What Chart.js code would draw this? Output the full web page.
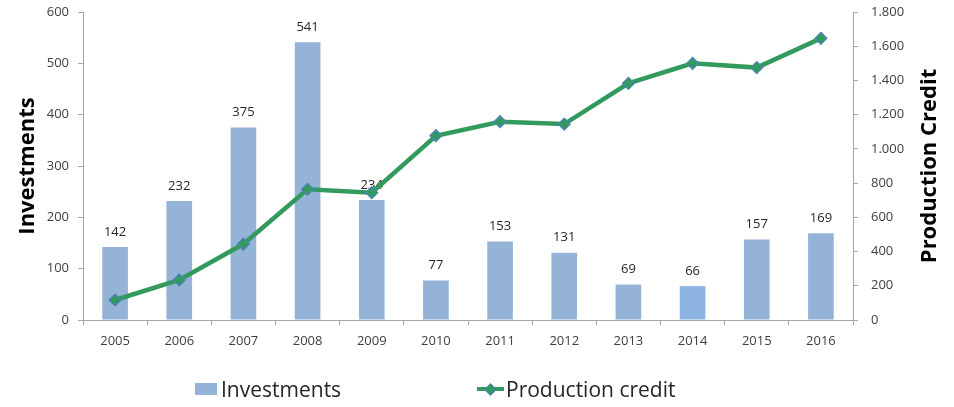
<!DOCTYPE html>
<html>
<head>
<meta charset="utf-8">
<script src="https://cdn.jsdelivr.net/npm/chart.js@4.4.1/dist/chart.umd.min.js"></script>
<style>
  html, body { margin: 0; padding: 0; background: #fff; }
  #contenedor { position: relative; width: 954px; height: 407px; }
  #leyenda { position: absolute; left: 0; top: 375px; width: 954px; height: 28px;
             font-family: 'Open Sans', sans-serif; font-size: 21px; color: #262626; }
  .item { position: absolute; top: 0; height: 28px; display: flex; align-items: center; white-space: nowrap; }
  .caja { width: 22px; height: 12px; margin-right: 4px; }
  .marca { position: relative; width: 27px; height: 28px; margin-right: 2px; }
  .marca .linea { position: absolute; left: 0; right: 0; top: 12px; height: 4px; }
  .marca .rombo { position: absolute; left: 9px; top: 10px; width: 7px; height: 7px;
                  transform: rotate(45deg); border: 1px solid; }
</style>
</head>
<body>
<div id="contenedor">
  <canvas id="grafico"></canvas>
  <div id="leyenda"></div>
</div>
<script>
// Inversiones (barras, eje izquierdo) y crédito de producción (línea, eje derecho)

const ANIOS = ["2005", "2006", "2007", "2008", "2009", "2010", "2011", "2012", "2013", "2014", "2015", "2016"];
const INVERSIONES = [142, 232, 375, 541, 234, 77, 153, 131, 69, 66, 157, 169];
const CREDITO_PRODUCCION = [117, 234, 444, 764, 744, 1077, 1159, 1145, 1383, 1500, 1475, 1646];
const TICKS_IZQ = [0, 100, 200, 300, 400, 500, 600];
const TICKS_DER = [0, 200, 400, 600, 800, 1000, 1200, 1400, 1600, 1800];

const COLOR_BARRA = "#95b3d7";
const COLOR_BARRA_2014 = "#8db4e2";
const COLOR_LINEA = "#339a5e";
const COLOR_BORDE_MARCA = "#4f81bd";
const COLOR_TEXTO = "#404040";
const COLOR_EJE = "#a6a6a6";
const FUENTE = "'Open Sans', sans-serif";

Chart.defaults.font.family = FUENTE;
Chart.defaults.color = COLOR_TEXTO;

// 1800 -> "1.800"
function conPuntos(v) {
  return String(v).replace(/\B(?=(\d{3})+(?!\d))/g, ".");
}

// Valores encima de cada barra; se dibujan antes de la línea para que ésta quede encima
const etiquetasBarras = {
  id: "etiquetasBarras",
  afterDatasetDraw(chart, args) {
    if (args.index !== 0) return;
    const ctx = chart.ctx;
    ctx.save();
    ctx.font = "13px " + FUENTE;
    ctx.fillStyle = "#262626";
    ctx.textAlign = "center";
    ctx.textBaseline = "middle";
    args.meta.data.forEach((barra, i) => {
      ctx.fillText(INVERSIONES[i], barra.x, barra.y - 15);
    });
    ctx.restore();
  },
};

// Título del eje derecho, girado de abajo hacia arriba como en Excel
const tituloDerecho = {
  id: "tituloDerecho",
  afterDraw(chart) {
    const escala = chart.scales.y2;
    const ctx = chart.ctx;
    ctx.save();
    ctx.font = "bold 22px " + FUENTE;
    ctx.fillStyle = "#000";
    ctx.textAlign = "center";
    ctx.textBaseline = "middle";
    ctx.translate(escala.right - 24, (chart.chartArea.top + chart.chartArea.bottom) / 2);
    ctx.rotate(-Math.PI / 2);
    ctx.fillText("Production Credit", 0, 0);
    ctx.restore();
  },
};

// Ancho fijo de los ejes verticales, sin el margen extra que reservan para las etiquetas
function fijarAncho(ancho) {
  return escala => {
    escala.width = ancho;
    escala.paddingTop = 0;
    escala.paddingBottom = 0;
  };
}

const grafico = new Chart(document.getElementById("grafico"), {
  data: {
    labels: ANIOS,
    datasets: [
      {
        type: "bar",
        label: "Investments",
        data: INVERSIONES,
        backgroundColor: ANIOS.map(a => (a === "2014" ? COLOR_BARRA_2014 : COLOR_BARRA)),
        borderWidth: 0,
        barPercentage: 0.4,
        categoryPercentage: 1,
        yAxisID: "y",
        order: 1,
      },
      {
        type: "line",
        label: "Production credit",
        data: CREDITO_PRODUCCION,
        borderColor: COLOR_LINEA,
        borderWidth: 4.5,
        tension: 0,
        pointStyle: "rectRot",
        pointRadius: 6,
        pointBackgroundColor: COLOR_LINEA,
        pointBorderColor: COLOR_BORDE_MARCA,
        pointBorderWidth: 1.2,
        yAxisID: "y2",
        order: 0,
      },
    ],
  },
  options: {
    responsive: true,
    maintainAspectRatio: false,
    animation: false,
    layout: { padding: { top: 12, bottom: 47, left: 0, right: 0 } },
    plugins: { legend: { display: false }, tooltip: { enabled: false } },
    scales: {
      x: {
        grid: { display: true, drawOnChartArea: false, offset: true, color: COLOR_EJE, tickLength: 5 },
        border: { color: COLOR_EJE },
        ticks: { color: COLOR_TEXTO, font: { size: 13 }, padding: 8, maxRotation: 0 },
        afterFit(escala) { escala.height = 40; },
      },
      y: {
        position: "left",
        min: 0,
        max: 600,
        afterBuildTicks(escala) { escala.ticks = TICKS_IZQ.map(v => ({ value: v })); },
        grid: { display: true, drawOnChartArea: false, color: COLOR_EJE, tickLength: 5 },
        border: { color: COLOR_EJE },
        ticks: { color: COLOR_TEXTO, font: { size: 13 }, padding: 9 },
        title: {
          display: true,
          text: "Investments",
          color: "#000",
          font: { size: 22, weight: "bold" },
          padding: { top: 15, bottom: 0 },
        },
        afterFit: fijarAncho(83),
      },
      y2: {
        position: "right",
        min: 0,
        max: 1800,
        afterBuildTicks(escala) { escala.ticks = TICKS_DER.map(v => ({ value: v })); },
        grid: { display: true, drawOnChartArea: false, color: COLOR_EJE, tickLength: 5 },
        border: { color: COLOR_EJE },
        ticks: { color: COLOR_TEXTO, font: { size: 13 }, padding: 13, callback: v => conPuntos(v) },
        afterFit: fijarAncho(101),
      },
    },
  },
  plugins: [etiquetasBarras, tituloDerecho],
});

// Leyenda en HTML, armada con los datasets del gráfico
const POS_LEYENDA = [195, 477];
const leyenda = document.getElementById("leyenda");
grafico.data.datasets.forEach((ds, i) => {
  const item = document.createElement("div");
  item.className = "item";
  item.style.left = POS_LEYENDA[i] + "px";
  if (ds.type === "bar") {
    item.innerHTML = `<span class="caja" style="background:${COLOR_BARRA}"></span><span>${ds.label}</span>`;
  } else {
    item.innerHTML = `<span class="marca"><span class="linea" style="background:${ds.borderColor}"></span>` +
      `<span class="rombo" style="background:${ds.pointBackgroundColor};border-color:${ds.pointBorderColor}"></span></span>` +
      `<span>${ds.label}</span>`;
  }
  leyenda.appendChild(item);
});
</script>
</body>
</html>
